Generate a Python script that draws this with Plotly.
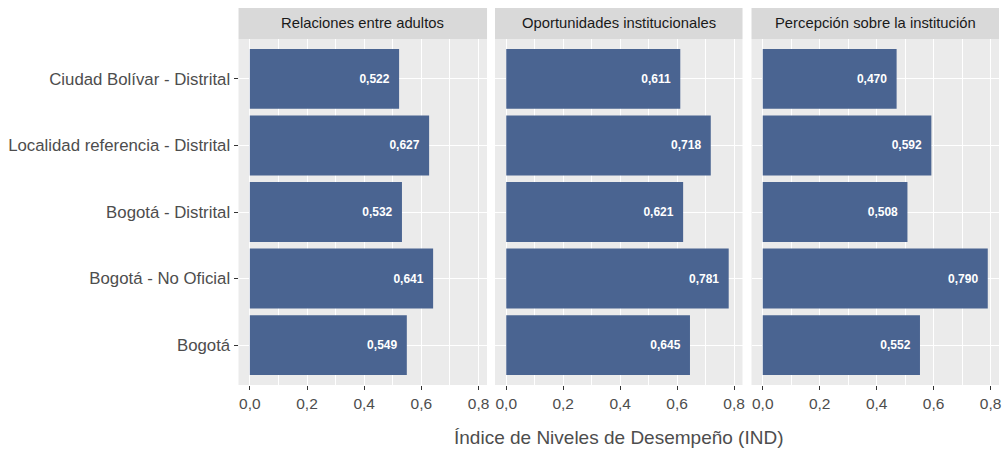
import plotly.graph_objects as go

# datos
categorias = ["Ciudad Bolívar - Distrital", "Localidad referencia - Distrital",
              "Bogotá - Distrital", "Bogotá - No Oficial", "Bogotá"]
paneles = ["Relaciones entre adultos", "Oportunidades institucionales",
           "Percepción sobre la institución"]
relaciones = [0.522, 0.627, 0.532, 0.641, 0.549]
oportunidades = [0.611, 0.718, 0.621, 0.781, 0.645]
percepcion = [0.470, 0.592, 0.508, 0.790, 0.552]
valores = [relaciones, oportunidades, percepcion]

W, H = 1005, 449
dominios_x = [(239, 488), (496, 744), (753, 1001)]
y_top, y_bot = 39, 385
strip_top = 8

fig = go.Figure()

for i, (vals, nombre) in enumerate(zip(valores, paneles)):
    n = "" if i == 0 else str(i + 1)
    fig.add_trace(go.Bar(
        x=vals, y=categorias, orientation="h",
        marker=dict(color="#4A6491", line=dict(width=0)),
        width=0.9,
        texttemplate="%{x:.3f}\u00a0\u00a0",
        textposition="inside", insidetextanchor="end",
        textfont=dict(color="white", size=12, family="Liberation Sans", weight="bold"),
        xaxis="x" + n, yaxis="y" + n, showlegend=False,
        hoverinfo="skip",
    ))
    x0, x1 = dominios_x[i]
    fig.update_layout(**{
        "xaxis" + n: dict(
            domain=[x0 / W, x1 / W], anchor="y" + n,
            range=[-0.0395, 0.8295], tickvals=[0, 0.2, 0.4, 0.6, 0.8],
            tickformat=".1f", showgrid=True, gridcolor="white", gridwidth=1.1,
            minor=dict(dtick=0.1, tick0=0, showgrid=True, gridcolor="white", gridwidth=0.5),
            zeroline=False, ticks="outside", ticklen=4, tickcolor="#333333",
            tickfont=dict(size=15.5, color="#4D4D4D", family="Liberation Sans"),
            showline=False, fixedrange=True,
        ),
        "yaxis" + n: dict(
            domain=[1 - y_bot / H, 1 - y_top / H], anchor="x" + n,
            categoryorder="array", categoryarray=categorias[::-1],
            range=[-0.6, 4.6], showgrid=True, gridcolor="white", gridwidth=1.1,
            zeroline=False, showticklabels=(i == 0),
            ticks="outside" if i == 0 else "", ticklen=4, tickcolor="#333333",
            tickfont=dict(size=16.8, color="#4D4D4D", family="Liberation Sans"),
            fixedrange=True,
        ),
    })
    # franja del panel
    fig.add_shape(type="rect", xref="paper", yref="paper",
                  x0=x0 / W, x1=x1 / W, y0=1 - y_top / H, y1=1 - strip_top / H,
                  fillcolor="#D9D9D9", line=dict(width=0), layer="below")
    fig.add_annotation(text=nombre, xref="paper", yref="paper",
                       x=(x0 + x1) / 2 / W, y=1 - (y_top + strip_top) / 2 / H,
                       showarrow=False, xanchor="center", yanchor="middle",
                       font=dict(size=14.8, color="#1A1A1A", family="Liberation Sans"))

fig.add_annotation(text="Índice de Niveles de Desempeño (IND)", xref="paper", yref="paper",
                   x=620 / W, y=1 - 437 / H, showarrow=False,
                   xanchor="center", yanchor="middle",
                   font=dict(size=19, color="#4D4D4D", family="Liberation Sans"))

fig.update_layout(
    width=W, height=H, margin=dict(l=0, r=0, t=0, b=0),
    paper_bgcolor="white", plot_bgcolor="#EBEBEB",
    separators=",.", bargap=0.1,
    font=dict(family="Liberation Sans"),
)

fig.write_html("out.html", config={"displayModeBar": False},
               post_script="document.body.style.margin='0';document.body.style.overflow='hidden';")
